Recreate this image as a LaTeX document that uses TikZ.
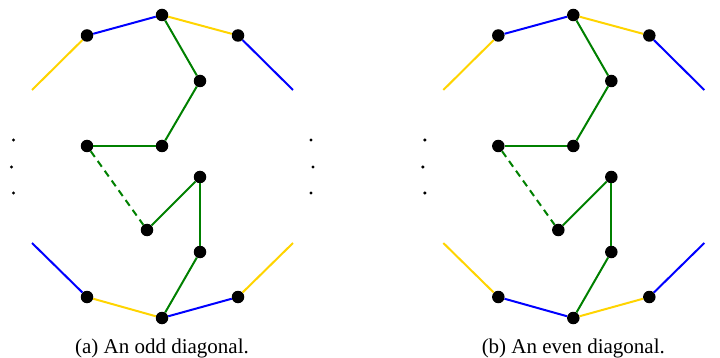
\documentclass[tikz,border=0pt]{standalone}
\usepackage{fontspec}
\setmainfont{Liberation Serif}
\definecolor{cyel}{RGB}{255,212,0}
\definecolor{cblue}{RGB}{0,0,255}
\definecolor{cgreen}{RGB}{0,128,0}
\tikzset{
  vtx/.style={circle,fill=black,inner sep=0pt,minimum size=12.5pt},
  sdot/.style={circle,fill=black,inner sep=0pt,minimum size=3.4pt},
  edgeline/.style={line width=2pt},
  ye/.style={edgeline,draw=cyel},
  be/.style={edgeline,draw=cblue},
  ge/.style={edgeline,draw=cgreen},
  gd/.style={edgeline,draw=cgreen,dash pattern=on 7pt off 5pt},
  captext/.style={font=\fontsize{21}{24}\selectfont,anchor=base}
}
\newcommand\mypanel[5]{%
\begin{scope}[xshift=#2pt]
  \coordinate (#1tl) at (32,-90);
  \coordinate (#1tr) at (293,-90);
  \coordinate (#1bl) at (32,-243);
  \coordinate (#1br) at (293,-243);
  \node[vtx] (#1t1) at (87,-35.5) {};
  \node[vtx] (#1t2) at (162,-15) {};
  \node[vtx] (#1t3) at (238,-35.5) {};
  \node[vtx] (#1g1) at (200,-81) {};
  \node[vtx] (#1g2) at (162,-146) {};
  \node[vtx] (#1g3) at (87,-146) {};
  \node[vtx] (#1g4) at (147,-230) {};
  \node[vtx] (#1g5) at (200,-177) {};
  \node[vtx] (#1g6) at (200,-252) {};
  \node[vtx] (#1b2) at (162,-318) {};
  \node[vtx] (#1b1) at (87,-297) {};
  \node[vtx] (#1b3) at (238,-297) {};
  \draw[ye] (#1tl) -- (#1t1);
  \draw[be] (#1t1) -- (#1t2);
  \draw[ye] (#1t2) -- (#1t3);
  \draw[be] (#1t3) -- (#1tr);
  \draw[ge] (#1t2) -- (#1g1);
  \draw[ge] (#1g1) -- (#1g2);
  \draw[ge] (#1g2) -- (#1g3);
  \draw[gd] (#1g3) -- (#1g4);
  \draw[ge] (#1g4) -- (#1g5);
  \draw[ge] (#1g5) -- (#1g6);
  \draw[ge] (#1g6) -- (#1b2);
  \draw[#3] (#1bl) -- (#1b1);
  \draw[#4] (#1b1) -- (#1b2);
  \draw[#3] (#1b2) -- (#1b3);
  \draw[#4] (#1b3) -- (#1br);
  \node[sdot] (#1l1) at (13.5,-140) {};
  \node[sdot] (#1l2) at (11.5,-167) {};
  \node[sdot] (#1l3) at (13.5,-193) {};
  \node[captext] (#1cap) at (162,-353) {#5};
\end{scope}}
\begin{document}
\begin{tikzpicture}[x=1pt,y=1pt]
\useasboundingbox (0,0) rectangle (720,-358);
\mypanel{a}{0}{be}{ye}{(a) An odd diagonal.}
\node[sdot] (ar1) at (311,-140) {};
\node[sdot] (ar2) at (313,-167) {};
\node[sdot] (ar3) at (311,-193) {};
\mypanel{b}{411.3}{ye}{be}{(b) An even diagonal.}
\end{tikzpicture}
\end{document}
